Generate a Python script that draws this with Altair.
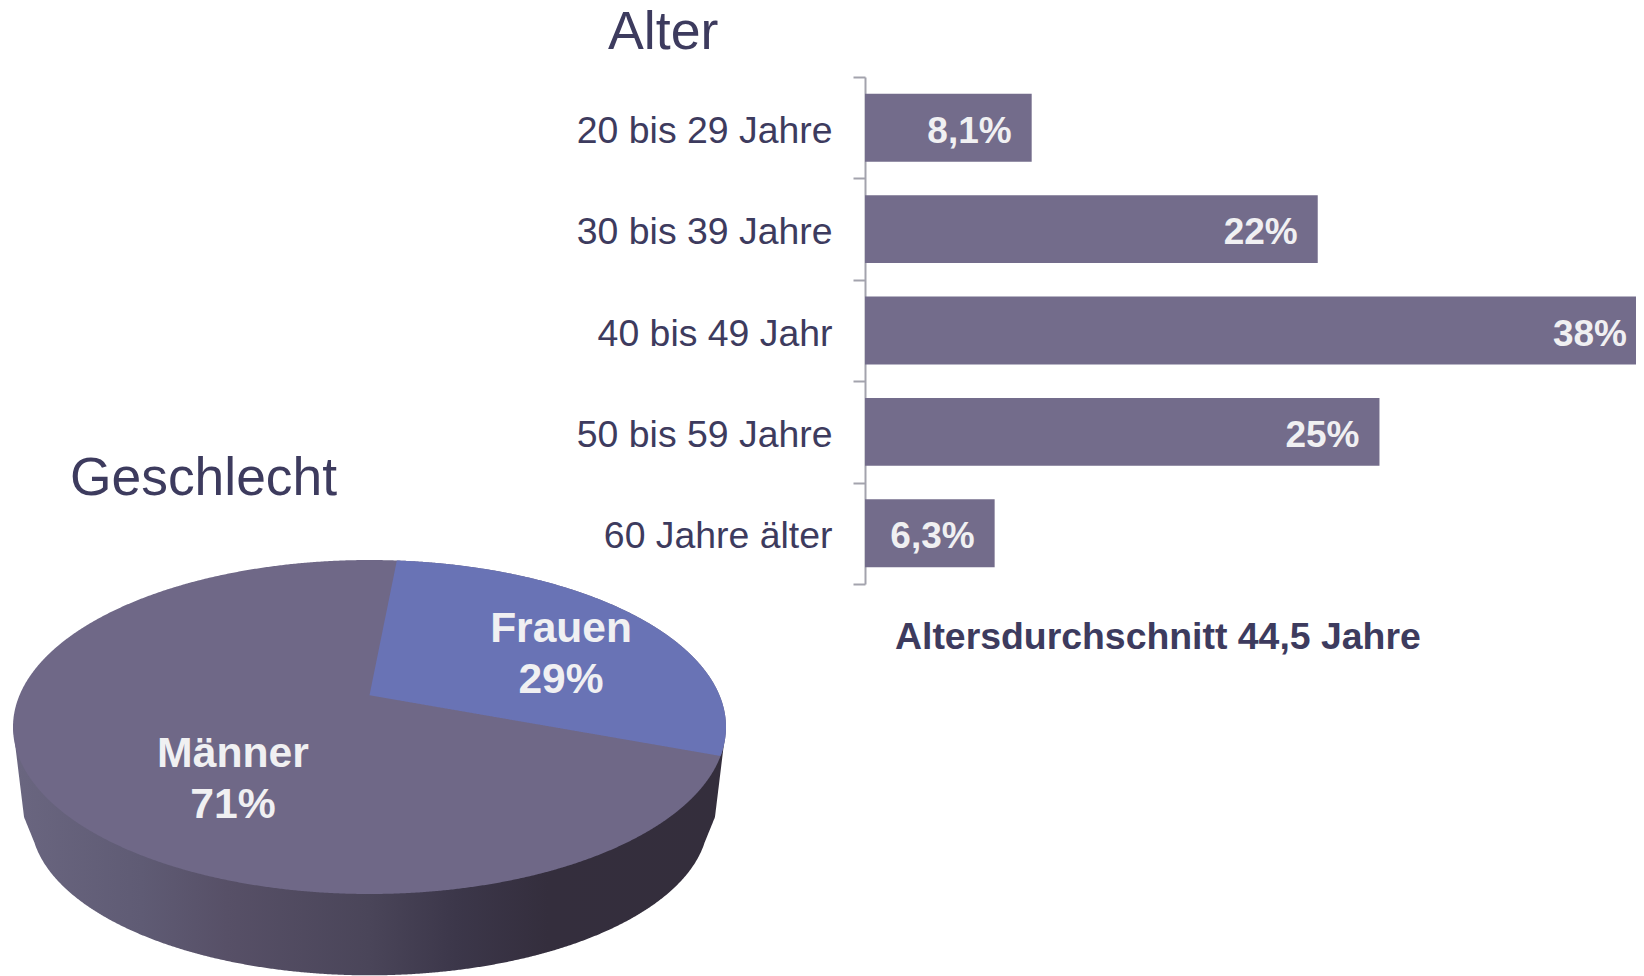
import numpy as np
import pandas as pd
import altair as alt

age_groups = ["20 bis 29 Jahre", "30 bis 39 Jahre", "40 bis 49 Jahr", "50 bis 59 Jahre", "60 Jahre älter"]
age_values = [8.1, 22, 38, 25, 6.3]
age_labels = ["8,1%", "22%", "38%", "25%", "6,3%"]
gender_names = ["Männer", "Frauen"]
gender_values = [71, 29]

FONT = "Liberation Sans"
TEXT = "#3d3b5e"
LIGHT = "#f0f0f2"
BAR = "#736c8b"
MEN = "#6f6887"
WOMEN = "#6973b5"

# pie geometry, in units of the ellipse radii
frauen_arc_deg = (4.4, 100.0)
apex = (0.0, 0.19)
wall_rx, wall_cy, wall_ry = 0.95, -0.557, 0.93
wall_edge_x, wall_edge_y = 0.969, -0.54
wall_knee_x = 0.94

pie_x = alt.Scale(domain=[-1, 1], range=[5, 718], nice=False, zero=False)
pie_y = alt.Scale(domain=[-1, 1], range=[886, 552], nice=False, zero=False)
bar_x = alt.Scale(domain=[0, 38], range=[857, 1639], nice=False, zero=True)
bar_y = alt.Scale(domain=age_groups, range=[69, 576], paddingInner=0, paddingOuter=0)

xs = np.cos(np.linspace(np.pi, 0, 721))


def area_layer(df, fill):
    return alt.Chart(df).mark_area(color=fill, interpolate="linear").encode(
        x=alt.X("x:Q", scale=pie_x, axis=None),
        y=alt.Y("y:Q", scale=pie_y, axis=None),
        y2="y2:Q",
    )


def wall_ellipse(v):
    return wall_cy - wall_ry * np.sqrt(1 - (v / wall_rx) ** 2)


# side wall
knee_y = wall_ellipse(wall_knee_x)
wall_y = []
for v in xs:
    a = abs(v)
    if a >= wall_edge_x:
        wall_y.append((1 - a) / (1 - wall_edge_x) * wall_edge_y)
    elif a >= wall_knee_x:
        wall_y.append(wall_edge_y + (wall_edge_x - a) / (wall_edge_x - wall_knee_x) * (knee_y - wall_edge_y))
    else:
        wall_y.append(wall_ellipse(v))
wall_df = pd.DataFrame({"x": xs, "y": 0.0, "y2": wall_y})
wall_fill = alt.Gradient(
    gradient="linear", x1=0, x2=1, y1=0, y2=0,
    stops=[
        alt.GradientStop(color="#6a6680", offset=0),
        alt.GradientStop(color="#5f5b74", offset=0.18),
        alt.GradientStop(color="#575067", offset=0.30),
        alt.GradientStop(color="#4a4559", offset=0.50),
        alt.GradientStop(color="#3c374a", offset=0.62),
        alt.GradientStop(color="#342e3d", offset=0.75),
        alt.GradientStop(color="#342e3c", offset=1),
    ],
)

# top face
top_df = pd.DataFrame({"x": xs, "y": np.sqrt(np.clip(1 - xs**2, 0, 1)), "y2": -np.sqrt(np.clip(1 - xs**2, 0, 1))})

# Frauen sector
a0, a1 = np.radians(frauen_arc_deg[0]), np.radians(frauen_arc_deg[1])
p0 = (np.sin(a0), np.cos(a0))
p1 = (np.sin(a1), np.cos(a1))
sx = np.unique(np.concatenate([np.linspace(apex[0], p0[0], 20), np.sin(np.linspace(a0, np.pi / 2, 500)), [p1[0]]]))
upper, lower = [], []
for v in sx:
    ell = np.sqrt(max(1 - v**2, 0))
    u = ell if v >= p0[0] else apex[1] + (p0[1] - apex[1]) * (v - apex[0]) / (p0[0] - apex[0])
    l = apex[1] + (p1[1] - apex[1]) * (v - apex[0]) / (p1[0] - apex[0]) if v <= p1[0] else -ell
    upper.append(u)
    lower.append(l)
sector_df = pd.DataFrame({"x": sx, "y": upper, "y2": lower})


def label(text, x, y, size, bold=False, color=TEXT, align="left"):
    return alt.Chart(alt.Data(values=[{"t": text}])).mark_text(
        font=FONT, fontSize=size, fontWeight="bold" if bold else "normal",
        color=color, align=align, baseline="alphabetic",
    ).encode(text="t:N", x=alt.value(x), y=alt.value(y))


age_df = pd.DataFrame({"group": age_groups, "value": age_values, "label": age_labels})

bars = alt.Chart(age_df).mark_bar(color=BAR, height=alt.RelativeBandSize(band=0.67)).encode(
    x=alt.X("value:Q", scale=bar_x, axis=None),
    y=alt.Y(
        "group:N", scale=bar_y, sort=age_groups,
        axis=alt.Axis(
            title=None, orient="left", offset=-857, grid=False, tickBand="extent",
            domainColor="#a3a3ad", domainWidth=2, tickColor="#a3a3ad", tickWidth=2, tickSize=12,
            labelFont=FONT, labelFontSize=37.4, labelColor=TEXT, labelPadding=21, labelLimit=400,
            labelOffset=3.6,
        ),
    ),
)
bar_text = alt.Chart(age_df).mark_text(
    font=FONT, fontSize=37, fontWeight="bold", color=LIGHT, align="right",
    baseline="alphabetic", dx=-20, dy=15,
).encode(
    x=alt.X("value:Q", scale=bar_x, axis=None),
    y=alt.Y("group:N", scale=bar_y, sort=age_groups, axis=None),
    text="label:N",
)

chart = alt.layer(
    area_layer(wall_df, wall_fill),
    area_layer(top_df, MEN),
    area_layer(sector_df, WOMEN),
    bars,
    bar_text,
    label("Alter", 600, 41, 53.7),
    label("Geschlecht", 62, 487, 53.4),
    label("Altersdurchschnitt 44,5 Jahre", 887, 641, 37.4, bold=True),
    label(gender_names[0], 225, 759, 42.7, True, LIGHT, "center"),
    label(f"{gender_values[0]}%", 225, 810, 42.7, True, LIGHT, "center"),
    label(gender_names[1], 553, 634, 42.5, True, LIGHT, "center"),
    label(f"{gender_values[1]}%", 553, 685, 42.5, True, LIGHT, "center"),
).resolve_scale(x="independent", y="independent").properties(
    width=1628, height=968, padding=0,
    autosize=alt.AutoSizeParams(type="none"),
    background="white",
).configure_view(stroke=None)

chart.save("out.html", embed_options={"renderer": "svg", "actions": False})
